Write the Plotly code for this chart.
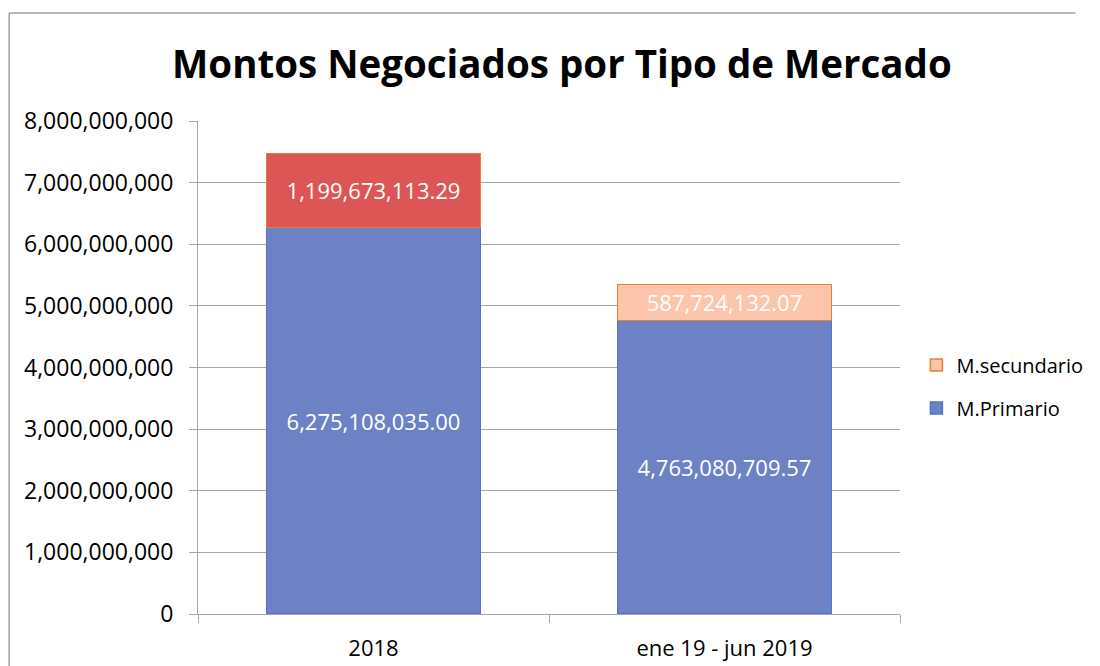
import plotly.graph_objects as go

categories = ["2018", "ene 19 - jun 2019"]
primario = [6275108035.00, 4763080709.57]
secundario = [1199673113.29, 587724132.07]
primario_labels = ["6,275,108,035.00", "4,763,080,709.57"]
secundario_labels = ["1,199,673,113.29", "587,724,132.07"]
y_ticks = [0, 1e9, 2e9, 3e9, 4e9, 5e9, 6e9, 7e9, 8e9]
y_tick_text = ["0", "1,000,000,000", "2,000,000,000", "3,000,000,000", "4,000,000,000",
               "5,000,000,000", "6,000,000,000", "7,000,000,000", "8,000,000,000"]

FONT = "Open Sans"
grid = "#a6a6a6"

fig = go.Figure()
fig.add_trace(go.Bar(
    x=categories, y=primario, name="M.Primario",
    marker=dict(color="#6d82c5", line=dict(color="#4a78d0", width=1.5)),
    text=primario_labels, textposition="inside", insidetextanchor="middle",
    textfont=dict(family=FONT, size=22, color="white"),
    legendgroup="p", legendrank=2, hoverinfo="skip",
))
fig.add_trace(go.Bar(
    x=categories, y=secundario, name="M.secundario",
    marker=dict(color=["#dc5656", "#fbc6ab"], line=dict(color="#ed7d31", width=1.5)),
    text=secundario_labels, textposition="inside", insidetextanchor="middle",
    textfont=dict(family=FONT, size=22, color="white"),
    showlegend=False, legendgroup="s", legendrank=1, hoverinfo="skip",
))
# legend entry for secondary series (series colour)
fig.add_trace(go.Bar(
    x=[None], y=[None], name="M.secundario",
    marker=dict(color="#fbc6ab", line=dict(color="#ed7d31", width=1.5)),
    legendgroup="s", legendrank=1,
))

W, H = 1084, 658
border = dict(color="#a0a0a0", width=1.5)
fig.update_layout(
    width=W, height=H,
    barmode="stack", bargap=0.39,
    paper_bgcolor="white", plot_bgcolor="white",
    margin=dict(l=190, r=192, t=113, b=52, autoexpand=False),
    font=dict(family=FONT, size=20, color="black"),
    title=dict(text="<b>Montos Negociados por Tipo de Mercado</b>",
               font=dict(family=FONT, size=38.5, color="black"),
               x=0.511, xanchor="center", y=1 - 57 / H, yanchor="middle"),
    legend=dict(xref="container", yref="container", x=0.838, y=1 - 378.5 / H,
                xanchor="left", yanchor="middle",
                traceorder="grouped", tracegroupgap=14,
                font=dict(family=FONT, size=20, color="black")),
    uniformtext=dict(mode="show", minsize=10),
    shapes=[
        dict(type="line", xref="paper", yref="paper", x0=-0.269, x1=-0.269,
             y0=-0.3, y1=1.219, line=border, layer="below"),
        dict(type="line", xref="paper", yref="paper", x0=-0.269, x1=1.25,
             y0=1.219, y1=1.219, line=border, layer="below"),
    ],
)
fig.update_xaxes(showline=True, linecolor=grid, linewidth=1, automargin=False,
                 ticks="outside", tickson="boundaries", ticklen=8, tickcolor=grid,
                 tickfont=dict(family=FONT, size=22, color="black"),
                 ticklabelstandoff=15)
fig.update_yaxes(range=[0, 8e9], tickvals=y_ticks, ticktext=y_tick_text,
                 showline=True, linecolor=grid, linewidth=1, automargin=False,
                 showgrid=True, gridcolor=grid, gridwidth=1, zeroline=False,
                 ticks="outside", ticklen=8, tickcolor=grid,
                 tickfont=dict(family=FONT, size=23, color="black"),
                 ticklabelstandoff=11)

fig.write_html("out.html")
